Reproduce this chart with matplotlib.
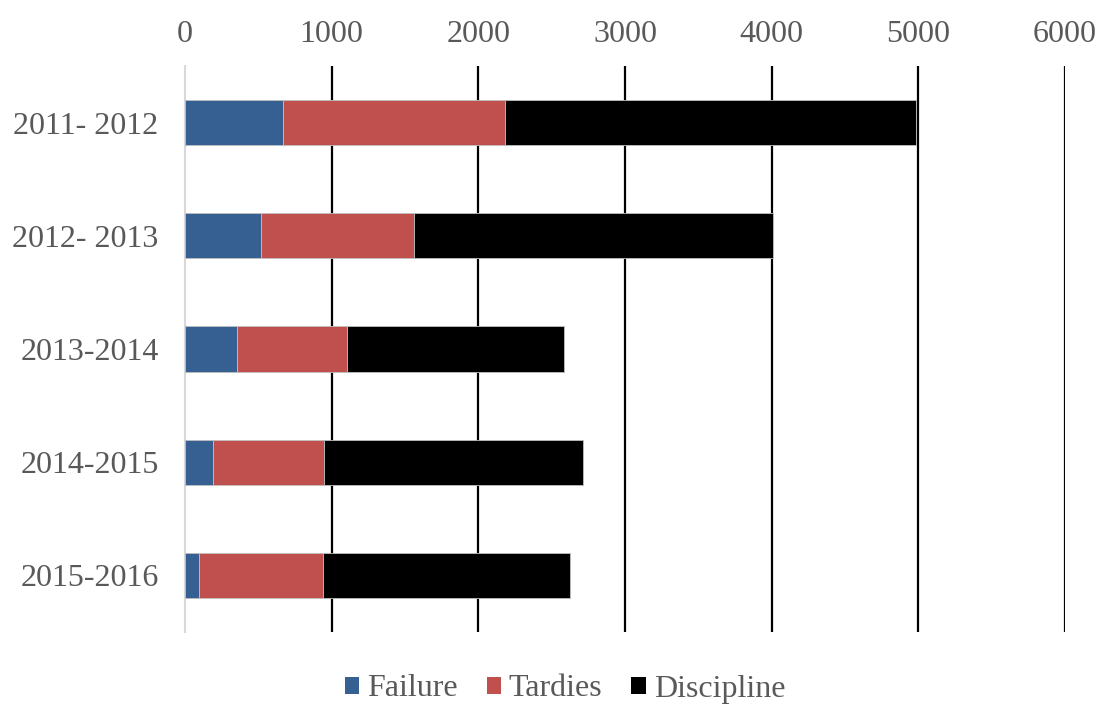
import matplotlib.pyplot as plt
import numpy as np
from matplotlib.patches import Patch

years = ["2011- 2012", "2012- 2013", "2013-2014", "2014-2015", "2015-2016"]
failure = [668, 521, 357, 193, 98]
tardies = [1515, 1043, 745, 752, 843]
discipline = [2801, 2447, 1485, 1771, 1682]

colors = {"Failure": "#366092", "Tardies": "#C0504D", "Discipline": "#000000"}

plt.rcParams["font.family"] = ["Liberation Serif", "DejaVu Serif"]

fig = plt.figure(figsize=(10.99, 7.04), dpi=100)
ax = fig.add_axes([185 / 1099, 1 - 632 / 704, (1065 - 185) / 1099, (632 - 66) / 704])

y = np.arange(len(years))
left = np.zeros(len(years))
for name, vals in [("Failure", failure), ("Tardies", tardies), ("Discipline", discipline)]:
    ax.barh(y, vals, left=left, height=0.4, color=colors[name],
            edgecolor="#BFBFBF", linewidth=0.6, zorder=3)
    left = left + np.array(vals)

ax.set_xlim(0, 6000)
ax.set_ylim(len(years) - 0.5, -0.5)
ax.set_xticks(np.arange(0, 6001, 1000))
ax.set_yticks(y)
ax.set_yticklabels(years)
ax.xaxis.tick_top()
ax.tick_params(axis="both", length=0, labelsize=23, labelcolor="#595959")
ax.tick_params(axis="x", pad=12)
ax.tick_params(axis="y", pad=19)

for xv in np.arange(1000, 6001, 1000):
    ax.axvline(xv, color="black", linewidth=1.6, zorder=1)

for s in ["top", "right", "bottom"]:
    ax.spines[s].set_visible(False)
ax.spines["left"].set_color("#D9D9D9")
ax.spines["left"].set_linewidth(1.5)

legend_elements = [Patch(facecolor=c, label=n) for n, c in colors.items()]
fig.legend(handles=legend_elements, loc="center", bbox_to_anchor=(565 / 1099, 1 - 689 / 704),
           ncol=3, frameon=False, prop={"family": "Liberation Serif", "size": 23},
           labelcolor="#595959", handlelength=0.45, handleheight=0.45,
           handletextpad=0.25, columnspacing=0.9)

fig.savefig("out.png", dpi=100)
